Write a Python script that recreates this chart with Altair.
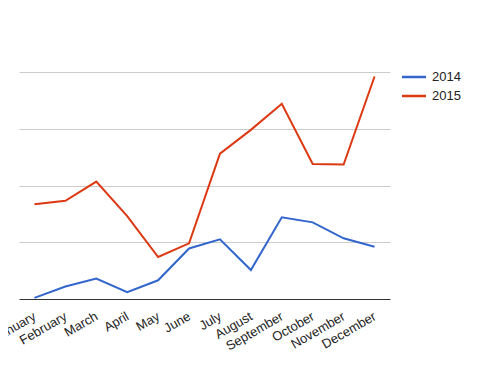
import altair as alt
import pandas as pd

months = ["January", "February", "March", "April", "May", "June", "July",
          "August", "September", "October", "November", "December"]
series_names = ["2014", "2015"]
series_colors = ["#3366cc", "#dc3912"]
s2014 = [0.2, 2.2, 3.6, 1.2, 3.3, 8.9, 10.5, 5.1, 14.4, 13.5, 10.7, 9.2]
s2015 = [16.7, 17.3, 20.7, 14.6, 7.4, 9.8, 25.6, 29.8, 34.4, 23.8, 23.7, 39.2]

rows = []
for m, v in zip(months, s2014):
    rows.append({"month": m, "series": "2014", "value": v})
for m, v in zip(months, s2015):
    rows.append({"month": m, "series": "2015", "value": v})
df = pd.DataFrame(rows)

lines = alt.Chart(df).mark_line(strokeWidth=2).encode(
    x=alt.X("month:N", sort=months, scale=alt.Scale(type="point", padding=0.5),
            axis=alt.Axis(title=None, labelAngle=-30, labelAlign="right", labelBaseline="middle",
                          labelFont="Liberation Sans", labelFontSize=13, labelColor="#222222",
                          labelPadding=16, ticks=False, domainColor="#333333", domainWidth=1,
                          grid=False, labelOverlap=False, labelBound=False)),
    y=alt.Y("value:Q", scale=alt.Scale(domain=[0, 40], nice=False),
            axis=alt.Axis(title=None, labels=False, ticks=False, domain=False,
                          values=[10, 20, 30, 40], gridColor="#cccccc", gridWidth=1)),
    color=alt.Color("series:N", scale=alt.Scale(domain=series_names, range=series_colors), legend=None),
)

layers = [lines]
for i, (name, col) in enumerate(zip(series_names, series_colors)):
    ypos = 5 + i * 19
    leg_df = pd.DataFrame({"series": [name]})
    layers.append(alt.Chart(leg_df).mark_rule(color=col, strokeWidth=2.5).encode(
        x=alt.value(383), x2=alt.value(407), y=alt.value(ypos)))
    layers.append(alt.Chart(leg_df).mark_text(align="left", baseline="middle", font="Liberation Sans",
                                              fontSize=13, color="#222222").encode(
        x=alt.value(413), y=alt.value(ypos), text="series:N"))

chart = alt.layer(*layers).properties(
    width=371, height=227, autosize="none", padding={"left": 11, "top": 64, "right": 106, "bottom": 64}
).configure_view(stroke=None)

chart.save("out.html", embed_options={"renderer": "svg", "actions": False})
